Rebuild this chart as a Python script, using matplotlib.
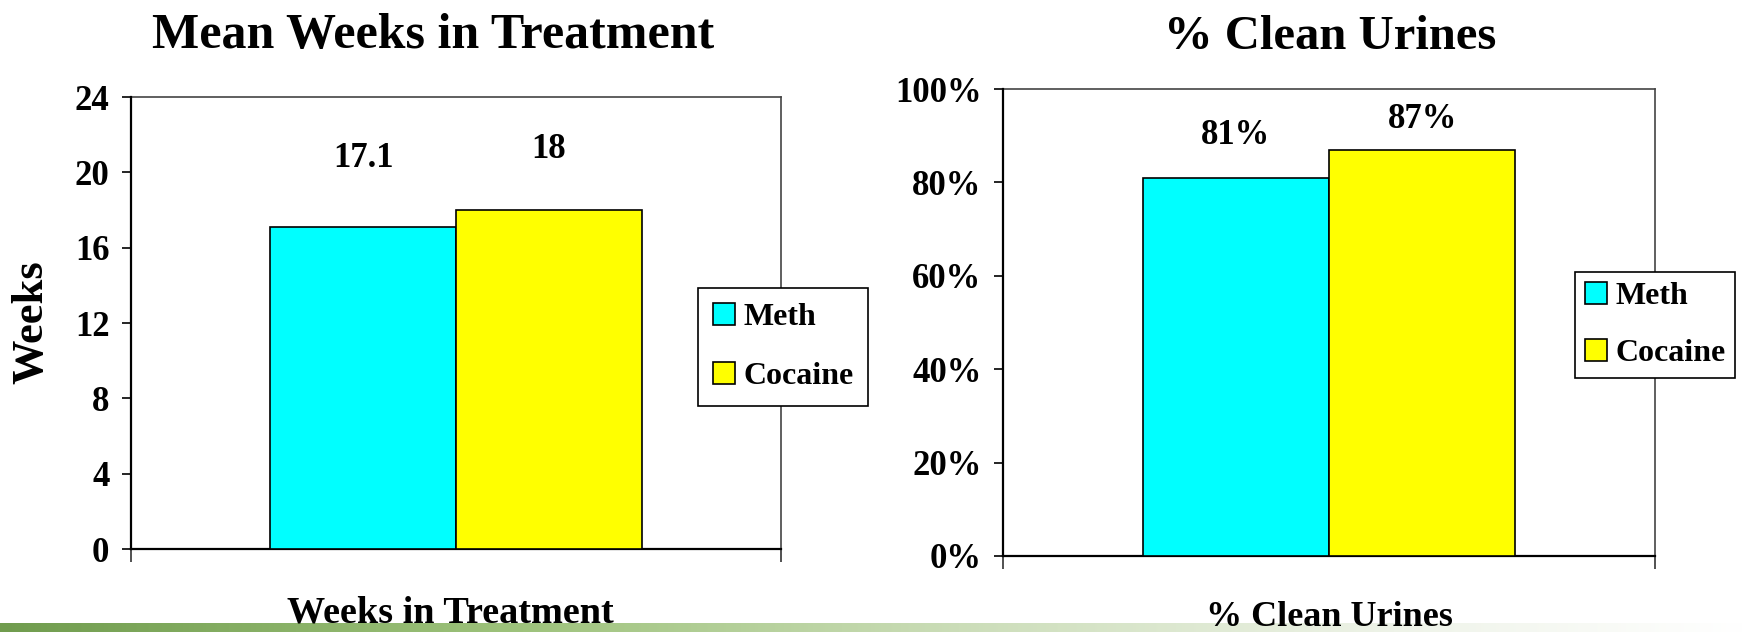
import numpy as np
import matplotlib
matplotlib.use("Agg")
import matplotlib.pyplot as plt
from matplotlib.patches import Patch

plt.rcParams['font.family'] = ['Liberation Serif', 'DejaVu Serif']

groups = ["Meth", "Cocaine"]
bar_colors = ["#00FFFF", "#FFFF00"]

weeks = [17.1, 18]
weeks_labels = ["17.1", "18"]
weeks_ticks = [0, 4, 8, 12, 16, 20, 24]

clean = [0.81, 0.87]
clean_labels = ["81%", "87%"]
clean_ticks = [0, 0.2, 0.4, 0.6, 0.8, 1.0]
clean_ticklabels = ["0%", "20%", "40%", "60%", "80%", "100%"]

W, H = 1742, 632
fig = plt.figure(figsize=(W / 100, H / 100), dpi=100)


def px_axes(x0, y0, x1, y1):
    # pixel box (top-left origin) -> figure axes
    return fig.add_axes([x0 / W, 1 - y1 / H, (x1 - x0) / W, (y1 - y0) / H])


def draw_panel(ax, values, labels, ticks, ticklabels, top, offsets):
    width = 1 / 3.5  # excel gap width 150%
    xs = [-width / 2, width / 2]
    ax.bar(xs, values, width=width, color=bar_colors, edgecolor="black", linewidth=1.2, zorder=3)
    for x, v, lab, off in zip(xs, values, labels, offsets):
        ax.annotate(lab, (x, v), xytext=(0, off * 0.72), textcoords="offset points",
                    ha="center", va="center", fontsize=25, fontweight="bold")
    ax.set_xlim(-0.5, 0.5)
    ax.set_ylim(0, top)
    ax.set_yticks(ticks)
    ax.set_yticklabels(ticklabels, fontsize=25, fontweight="bold")
    ax.set_xticks([-0.5, 0.5])
    ax.set_xticklabels([])
    ax.tick_params(axis="x", direction="out", length=9.5, width=1.2, color="#333333")
    ax.tick_params(axis="y", direction="out", length=6.5, width=1.2, pad=9)
    for s in ["left", "bottom"]:
        ax.spines[s].set_linewidth(1.6)
        ax.spines[s].set_color("black")
    for s in ["top", "right"]:
        ax.spines[s].set_linewidth(1.2)
        ax.spines[s].set_color("#444444")
    ax.spines["left"].set_zorder(4)


ax1 = px_axes(131, 97, 781, 549)
draw_panel(ax1, weeks, weeks_labels, weeks_ticks, [str(t) for t in weeks_ticks], 24, [68, 60])
ax2 = px_axes(1003, 89, 1655, 556)
draw_panel(ax2, clean, clean_labels, clean_ticks, clean_ticklabels, 1.0, [42, 30])

# green strip along the bottom edge
strip = px_axes(0, 623, W, H)
t = np.linspace(0, 1, 600)
stops_x = [0, 0.3, 0.55, 0.8, 1.0]
stops_c = np.array([[112, 156, 78], [158, 195, 124], [203, 221, 184], [238, 243, 232], [255, 255, 255]]) / 255
grad = np.stack([np.interp(t, stops_x, stops_c[:, i]) for i in range(3)], axis=-1)
strip.imshow(grad[None, :, :], aspect="auto", extent=[0, 1, 0, 1])
strip.axis("off")

# titles, axis captions
fig.text(433 / W, 1 - 36 / H, "Mean Weeks in Treatment", ha="center", va="center",
         fontsize=36, fontweight="bold")
fig.text(1330 / W, 1 - 37 / H, "% Clean Urines", ha="center", va="center",
         fontsize=35, fontweight="bold")
fig.text(450 / W, 1 - 613 / H, "Weeks in Treatment", ha="center", va="center",
         fontsize=27.5, fontweight="bold", zorder=0)
fig.text(1329 / W, 1 - 617 / H, "% Clean Urines", ha="center", va="center",
         fontsize=26, fontweight="bold", zorder=0)
fig.text(31 / W, 1 - 322 / H, "Weeks", ha="center", va="center", rotation=90,
         fontsize=32, fontweight="bold")

handles = [Patch(facecolor=c, edgecolor="black", linewidth=1.2) for c in bar_colors]
for x0, y0, gap, pad in [(698, 288, 0.93, 0.46), (1575, 272, 0.87, 0.31)]:
    leg = fig.legend(handles, groups, loc="upper left", bbox_to_anchor=(x0 / W, 1 - y0 / H),
                     bbox_transform=fig.transFigure, borderaxespad=0, fancybox=False,
                     framealpha=1, edgecolor="black", handlelength=0.7, handleheight=0.7,
                     handletextpad=0.25, labelspacing=gap, borderpad=pad,
                     prop={"size": 23, "weight": "bold"})
    leg.get_frame().set_linewidth(1.2)

fig.savefig("out.png", dpi=100)
